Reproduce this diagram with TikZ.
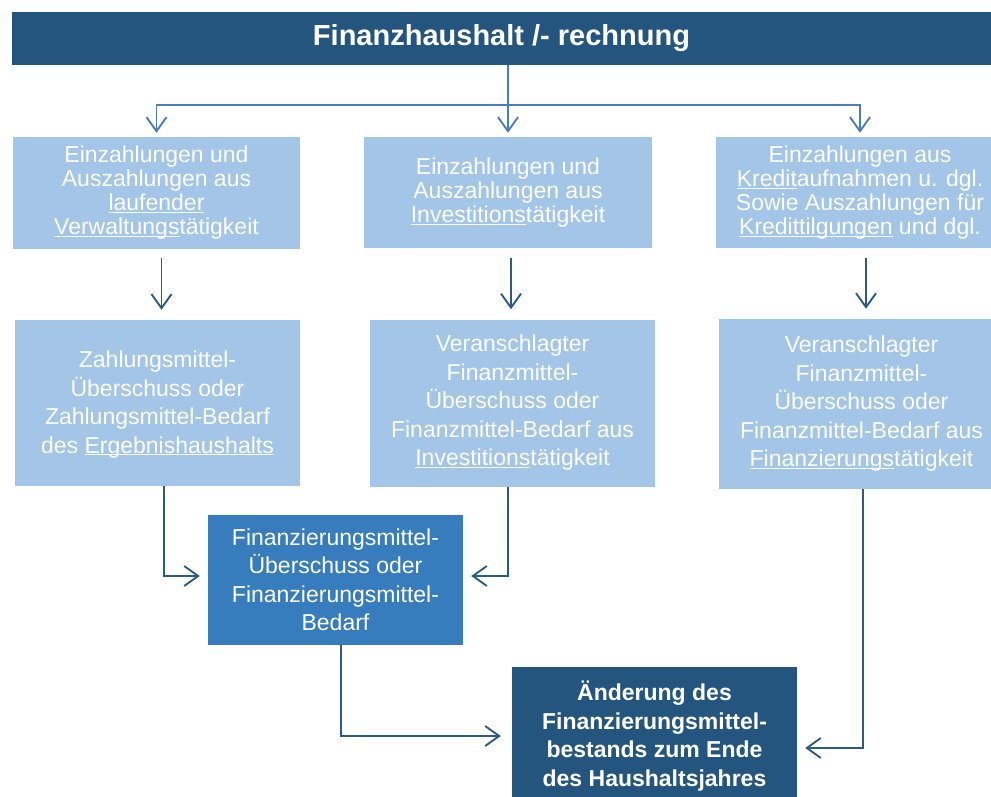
\documentclass[tikz,border=0pt]{standalone}
\usepackage{fontspec}
\setmainfont{Liberation Sans}
\usepackage{xcolor}
\usetikzlibrary{arrows.meta}
\definecolor{hellblau}{HTML}{A3C6E8}
\definecolor{dunkelblau}{HTML}{24557F}
\definecolor{mittelblau}{HTML}{377DBE}
\definecolor{pfeilblau}{HTML}{4A7DC0}
\definecolor{pfeildunkel}{HTML}{2B5A88}
\newcommand{\unterstr}[1]{\underline{\smash{#1}}}

\begin{document}
\begin{tikzpicture}[x=1pt, y=-1pt,
     box/.style = {draw=none, inner sep=0pt, align=center, text=white,
                   font=\fontsize{23}{28.5}\selectfont},
    hell/.style = {box, fill=hellblau},
    eng/.style  = {font=\fontsize{23}{24}\selectfont},
  mittel/.style = {box, fill=mittelblau},
  dunkel/.style = {box, fill=dunkelblau, font=\bfseries\fontsize{23}{28.7}\selectfont},
   pfeil/.style = {draw=pfeildunkel, line width=1.9pt,
                   -{Straight Barb[length=14pt, width=20pt]}},
   oben/.style  = {pfeil, draw=pfeilblau}
                    ]
\useasboundingbox (0,0) rectangle (991,796);
\clip (0,0) rectangle (991,796);

% Kopf
\node[box, fill=dunkelblau, minimum width=979pt, minimum height=53pt,
      font=\bfseries\fontsize{29}{32}\selectfont] (titel) at (501.5,38.5)
      {Finanzhaushalt /- rechnung};

% obere Reihe
\node[hell, eng, minimum width=287pt, minimum height=112pt] (lv) at (156.5,193)
      {Einzahlungen und\\Auszahlungen aus\\\unterstr{laufender}\\\unterstr{Verwaltungs}tätigkeit};
\node[hell, eng, minimum width=288pt, minimum height=111pt] (inv) at (508,192.5)
      {Einzahlungen und\\Auszahlungen aus\\\unterstr{Investitions}tätigkeit};
\node[hell, eng, minimum width=288pt, minimum height=111pt] (kred) at (860,192.5)
      {Einzahlungen aus\\\unterstr{Kredit}aufnahmen u. dgl.\\Sowie Auszahlungen für\\\unterstr{Kredittilgungen} und dgl.};

% mittlere Reihe
\node[hell, minimum width=285pt, minimum height=166pt] (zm) at (157.5,403)
      {Zahlungsmittel-\\Überschuss oder\\Zahlungsmittel-Bedarf\\des \unterstr{Ergebnishaushalts}};
\node[hell, minimum width=285pt, minimum height=167pt] (vi) at (512.5,403)
      {Veranschlagter\\Finanzmittel-\\Überschuss oder\\Finanzmittel-Bedarf aus\\\unterstr{Investitions}tätigkeit};
\node[hell, minimum width=285pt, minimum height=170pt] (vf) at (861.5,404)
      {Veranschlagter\\Finanzmittel-\\Überschuss oder\\Finanzmittel-Bedarf aus\\\unterstr{Finanzierungs}tätigkeit};

% unten
\node[mittel, minimum width=255pt, minimum height=130pt] (fm) at (335.5,580)
      {Finanzierungsmittel-\\Überschuss oder\\Finanzierungsmittel-\\Bedarf};
\node[dunkel, minimum width=285pt, minimum height=138pt] (aend) at (654.5,736)
      {Änderung des\\Finanzierungsmittel-\\bestands zum Ende\\des Haushaltsjahres};

% Verbindungen
\coordinate (knoten) at (inv.north |- 0,105);
\draw[oben, -] (titel.south -| knoten) -- (knoten);
\draw[oben, shorten >=4pt] (knoten) -- (inv);
\draw[oben, shorten >=4pt] (knoten) -| (lv);
\draw[oben, shorten >=4pt] (knoten) -| (kred);

\draw[pfeil, shorten <=9pt, shorten >=10pt] ([xshift=5pt]lv.south) -- ([xshift=5pt]lv.south |- zm.north);
\draw[pfeil, shorten <=10pt, shorten >=10pt] ([xshift=3pt]inv.south) -- ([xshift=3pt]inv.south |- vi.north);
\draw[pfeil, shorten <=10pt, shorten >=10pt] ([xshift=6pt]kred.south) -- ([xshift=6pt]kred.south |- vf.north);

\draw[pfeil, shorten >=8pt] ([xshift=6.5pt]zm.south) |- ([yshift=4pt]fm.west);
\draw[pfeil, shorten >=8pt] ([xshift=-4.5pt]vi.south) |- ([yshift=4pt]fm.east);
\draw[pfeil, shorten >=11pt] ([xshift=5.5pt]fm.south) |- (aend.west);
\draw[pfeil, shorten >=8pt] ([xshift=1.5pt]vf.south) |- ([yshift=-12pt]aend.east);
\end{tikzpicture}
\end{document}
